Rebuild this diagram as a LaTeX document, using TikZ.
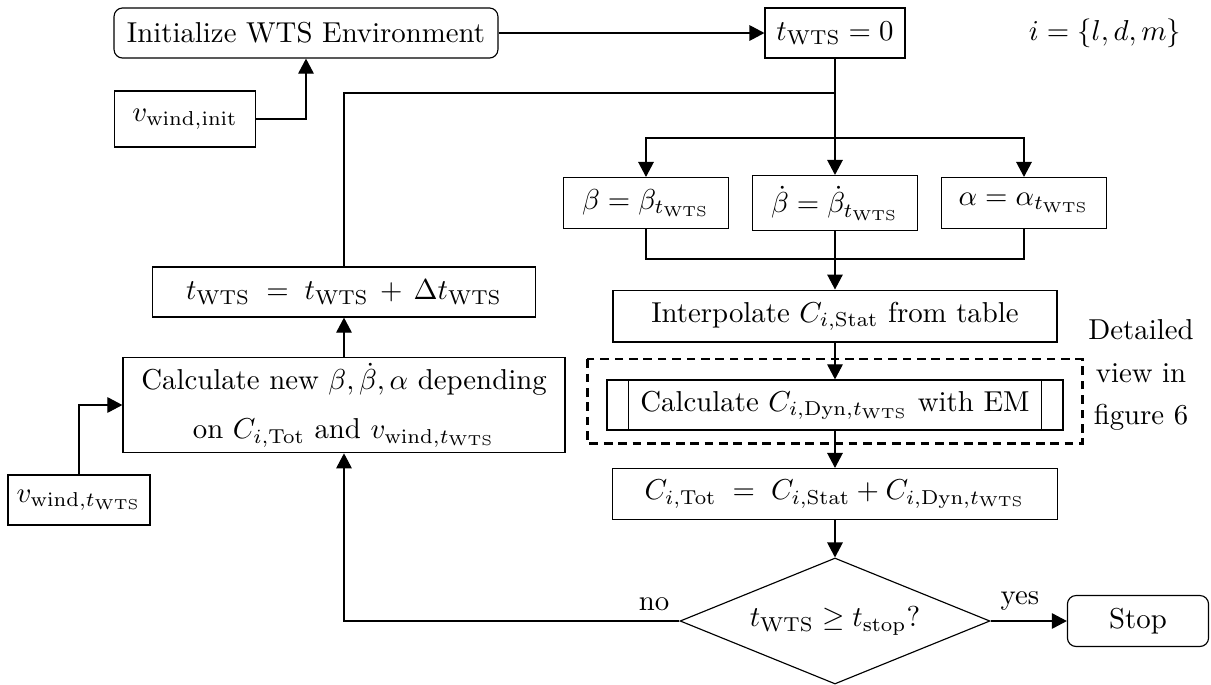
\documentclass[tikz,border=0pt]{standalone}
\usetikzlibrary{arrows.meta,shapes.geometric}
\begin{document}
\begin{tikzpicture}
% 1 unit = 1/2.88pt, y runs downwards
[x=0.3472pt, y=-0.3472pt, line width=0.4pt,
 arr/.style={-{Triangle[length=5.2pt,width=5.4pt]}},
 box/.style={draw, rectangle, minimum height=17.4pt, inner sep=2pt},
 term/.style={box, rounded corners=3pt},
 dashbox/.style={draw, thick, dash pattern=on 3pt off 2pt},
 choice/.style={draw, diamond, aspect=2.46, inner sep=0pt, minimum width=107.6pt, minimum height=43.75pt}]
\useasboundingbox (0,0) rectangle (1211,684);
% top row
\node[term, minimum width=133.3pt] (init) at (306,33) {Initialize WTS Environment};
\node[box, minimum width=48.6pt] (tzero) at (835,33) {$t_{\mathrm{WTS}} = 0$};
\node (ilabel) at (1105,33) {$i = \{l, d, m\}$};
\node[box, minimum width=49pt, minimum height=19.4pt] (vinit) at (185,119) {$v_{\mathrm{wind,init}}$};
% angles
\node[box, minimum width=57.3pt, minimum height=17.7pt] (beta) at (646,203) {$\beta = \beta_{t_{\mathrm{WTS}}}$};
\node[box, minimum width=57.3pt, minimum height=19.1pt] (betadot) at (835,203) {$\dot\beta = \dot\beta_{t_{\mathrm{WTS}}}$};
\node[box, minimum width=57.3pt, minimum height=17.7pt] (alpha) at (1024,203) {$\alpha = \alpha_{t_{\mathrm{WTS}}}$};
\coordinate (join) at (835,93);
\coordinate (split) at (835,138);
\coordinate (merge) at (835,259);
% coefficients
\node[box, minimum width=154.2pt, minimum height=18pt] (interp) at (835,316) {Interpolate $C_{i,\mathrm{Stat}}$ from table};
\node[box, minimum width=158.3pt] (cdyn) at (835,405) {Calculate $C_{i,\mathrm{Dyn},t_{\mathrm{WTS}}}$ with EM};
\draw ([xshift=7.6pt]cdyn.north west) -- ([xshift=7.6pt]cdyn.south west);
\draw ([xshift=-7.6pt]cdyn.north east) -- ([xshift=-7.6pt]cdyn.south east);
\draw[dashbox] ([xshift=-6.6pt,yshift=7pt]cdyn.north west) rectangle ([xshift=6.6pt,yshift=-4.5pt]cdyn.south east);
\node[align=center] (detail) at (1141,375) {Detailed\\[2.6pt]view in\\[2.6pt]figure 6};
\node[box, minimum width=154.5pt, minimum height=17.7pt] (ctot) at (835,494) {$C_{i,\mathrm{Tot}} \;=\; C_{i,\mathrm{Stat}} + C_{i,\mathrm{Dyn},t_{\mathrm{WTS}}}$};
\node[choice] (check) at (835,621) {$t_{\mathrm{WTS}} \geq t_{\mathrm{stop}}?$};
\node[term, minimum width=49pt, minimum height=17.7pt] (stop) at (1138,621) {Stop};
% left column
\node[box, minimum width=133pt] (update) at (344,292) {$t_{\mathrm{WTS}} \;=\; t_{\mathrm{WTS}} \,+\, \Delta t_{\mathrm{WTS}}$};
\node[box, minimum width=153.5pt, minimum height=31.6pt, align=center] (calcnew) at (344,405)
  {Calculate new $\beta, \dot\beta, \alpha$ depending\\[5pt]on $C_{i,\mathrm{Tot}}$ and $v_{\mathrm{wind},t_{\mathrm{WTS}}}$};
\node[box, minimum width=49.3pt] (vwind) at (79,500) {$v_{\mathrm{wind},t_{\mathrm{WTS}}}$};
% connectors
\draw[arr] (init) -- (tzero);
\draw[arr] (vinit.east) -| (init.south);
\draw (tzero.south) -- (split);
\draw (update.north) |- (join);
\draw[arr] (split) -- (betadot.north);
\draw[arr] (split) -| (beta.north);
\draw[arr] (split) -| (alpha.north);
\draw (beta.south) |- (merge);
\draw (alpha.south) |- (merge);
\draw[arr] (betadot.south) -- (interp.north);
\draw[arr] (interp) -- (cdyn);
\draw[arr] (cdyn) -- (ctot);
\draw[arr] (ctot) -- (check);
\draw[arr] (check.east) -- (stop.west) node[pos=0, above right] {yes};
\draw[arr] (check.west) -| (calcnew.south) node[pos=0, above left] {no};
\draw[arr] (calcnew) -- (update);
\draw[arr] (vwind.north) |- (calcnew.west);
\end{tikzpicture}
\end{document}
